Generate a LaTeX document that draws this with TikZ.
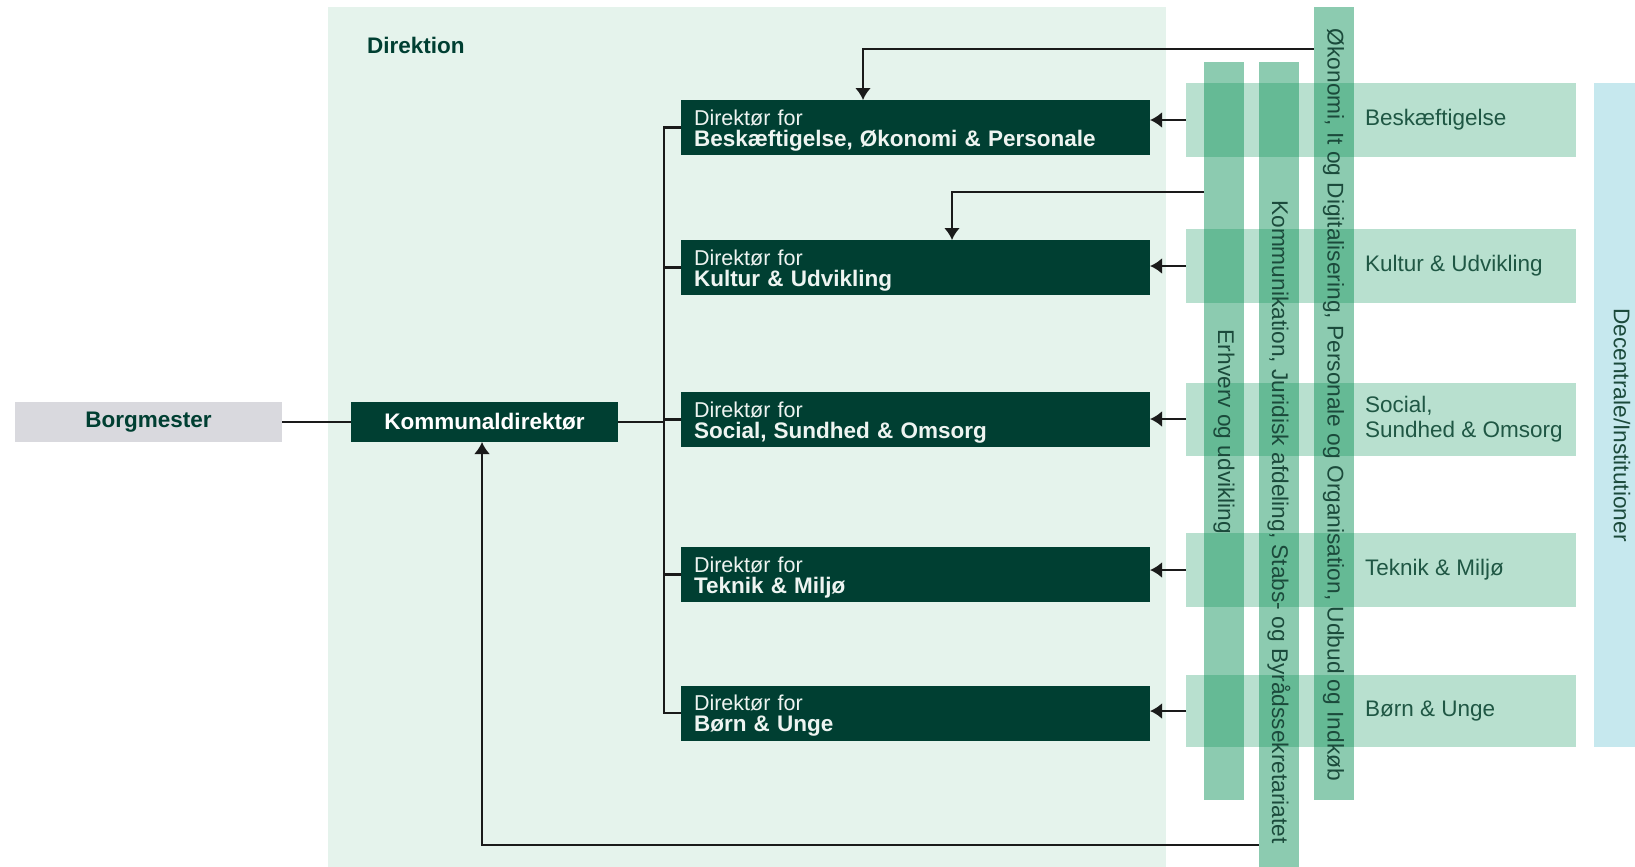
\documentclass[tikz,border=0pt]{standalone}
\usepackage{fontspec}
\setmainfont{Liberation Sans}
\usetikzlibrary{arrows.meta}
\definecolor{dirbg}{HTML}{E5F3EC}
\definecolor{darkbox}{HTML}{003F32}
\definecolor{rowc}{HTML}{B8E0CF}
\definecolor{stripc}{RGB}{0,140,80}
\definecolor{decc}{HTML}{C6E8EE}
\definecolor{borgc}{HTML}{D9D9DE}
\definecolor{txtc}{HTML}{1F5744}
\definecolor{vtxt}{HTML}{1B4A3B}
\definecolor{linec}{HTML}{1A1A1A}
\definecolor{boxtxt}{HTML}{EEF4F1}
\begin{document}
\begin{tikzpicture}[x=1pt,y=-1pt,
  every node/.style={inner sep=0pt, outer sep=0pt},
  area/.style={fill=#1, draw=none},
  dirbox/.style={fill=darkbox, text=boxtxt, align=left, text width=443pt, inner xsep=13pt,
    minimum height=55pt, text height=18pt, text depth=23pt, font=\fontsize{21.5}{21}\selectfont},
  rowbox/.style={fill=rowc, minimum width=390pt},
  stripbox/.style={fill=stripc, fill opacity=0.45, minimum width=40pt},
  rowtext/.style={anchor=west, text=txtc, align=left, font=\fontsize{22.5}{25}\selectfont},
  vtext/.style={rotate=-90, text=vtxt, font=\fontsize{22.7}{24}\selectfont},
  ln/.style={draw=linec, line width=2.5pt},
  arr/.style={ln, -{Latex[length=12pt,width=16pt]}},
  bf/.style={font=\fontsize{22.5}{24}\selectfont\bfseries}
]
\useasboundingbox (0,0) rectangle (1635,867);
% background area
\node[area=dirbg, minimum width=838pt, minimum height=860pt] (dir) at (747,437) {};
\node[bf, anchor=base west, text=darkbox] (dirlabel) at (367,53) {Direktion};
% rows on the right
\node[rowbox, minimum height=74pt] (r1) at (1381,120) {};
\node[rowbox, minimum height=74pt] (r2) at (1381,266) {};
\node[rowbox, minimum height=73pt] (r3) at (1381,419) {};
\node[rowbox, minimum height=74pt] (r4) at (1381,570) {};
\node[rowbox, minimum height=72pt] (r5) at (1381,711) {};
\node[area=decc, minimum width=46pt, minimum height=664pt] (dec) at (1617,415) {};
% strips
\node[stripbox, minimum height=738pt] (s1) at (1224,431) {};
\node[stripbox, minimum height=808pt] (s2) at (1279,466) {};
\node[stripbox, minimum height=793pt] (s3) at (1333.5,403.5) {};
% texts
\node[rowtext] (t1) at (1365,120) {Beskæftigelse};
\node[rowtext] (t2) at (1365,266) {Kultur \& Udvikling};
\node[rowtext] (t3) at (1365,419) {Social,\\Sundhed \& Omsorg};
\node[rowtext] (t4) at (1365,570) {Teknik \& Miljø};
\node[rowtext] (t5) at (1365,711) {Børn \& Unge};
\node[vtext] (v1) at (1224,432) {Erhverv og udvikling};
\node[vtext] (v2) at (1279,522) {Kommunikation, Juridisk afdeling, Stabs- og Byrådssekretariatet};
\node[vtext] (v3) at (1333.5,405) {Økonomi, It og Digitalisering, Personale og Organisation, Udbud og Indkøb};
\node[vtext] (v4) at (1622,425) {Decentrale/Institutioner};
% left boxes
\node[area=borgc, minimum width=267pt, minimum height=40.5pt, bf, text=darkbox] (borg) at (148.5,422) {Borgmester};
\node[area=darkbox, minimum width=267pt, minimum height=40pt, bf, text=white] (kd) at (484.5,422) {Kommunaldirektør};
% director boxes
\node[dirbox] (d1) at (915.5,127.5) {Direktør for\\{\fontsize{22.5}{21}\selectfont\bfseries Beskæftigelse, Økonomi \& Personale}};
\node[dirbox] (d2) at (915.5,267.5) {Direktør for\\{\fontsize{22.5}{21}\selectfont\bfseries Kultur \& Udvikling}};
\node[dirbox] (d3) at (915.5,419.5) {Direktør for\\{\fontsize{22.5}{21}\selectfont\bfseries Social, Sundhed \& Omsorg}};
\node[dirbox] (d4) at (915.5,574.5) {Direktør for\\{\fontsize{22.5}{21}\selectfont\bfseries Teknik \& Miljø}};
\node[dirbox] (d5) at (915.5,713) {Direktør for\\{\fontsize{22.5}{21}\selectfont\bfseries Børn \& Unge}};
% connectors
\coordinate (busx) at (664,0);
\draw[ln] (borg.east) -- (kd.west);
\draw[ln] (kd.east) -- (kd.east -| busx);
\draw[ln] (d1.west) -- (d1.west -| busx) -- (d5.west -| busx) -- (d5.west);
\draw[ln] (d2.west) -- (d2.west -| busx);
\draw[ln] (d3.west) -- (d3.west -| busx);
\draw[ln] (d4.west) -- (d4.west -| busx);
\draw[arr] (r1.west) -- (r1.west -| d1.east);
\draw[arr] (r2.west) -- (r2.west -| d2.east);
\draw[arr] (r3.west) -- (r3.west -| d3.east);
\draw[arr] (r4.west) -- (r4.west -| d4.east);
\draw[arr] (r5.west) -- (r5.west -| d5.east);
\coordinate (a1) at (863,49);
\coordinate (a2) at (952,192);
\coordinate (a3) at (482,845);
\draw[arr] (s3.west |- a1) -| (d1.north -| a1);
\draw[arr] (s1.west |- a2) -| (d2.north -| a2);
\draw[arr] (s2.west |- a3) -| (kd.south -| a3);
\end{tikzpicture}
\end{document}
